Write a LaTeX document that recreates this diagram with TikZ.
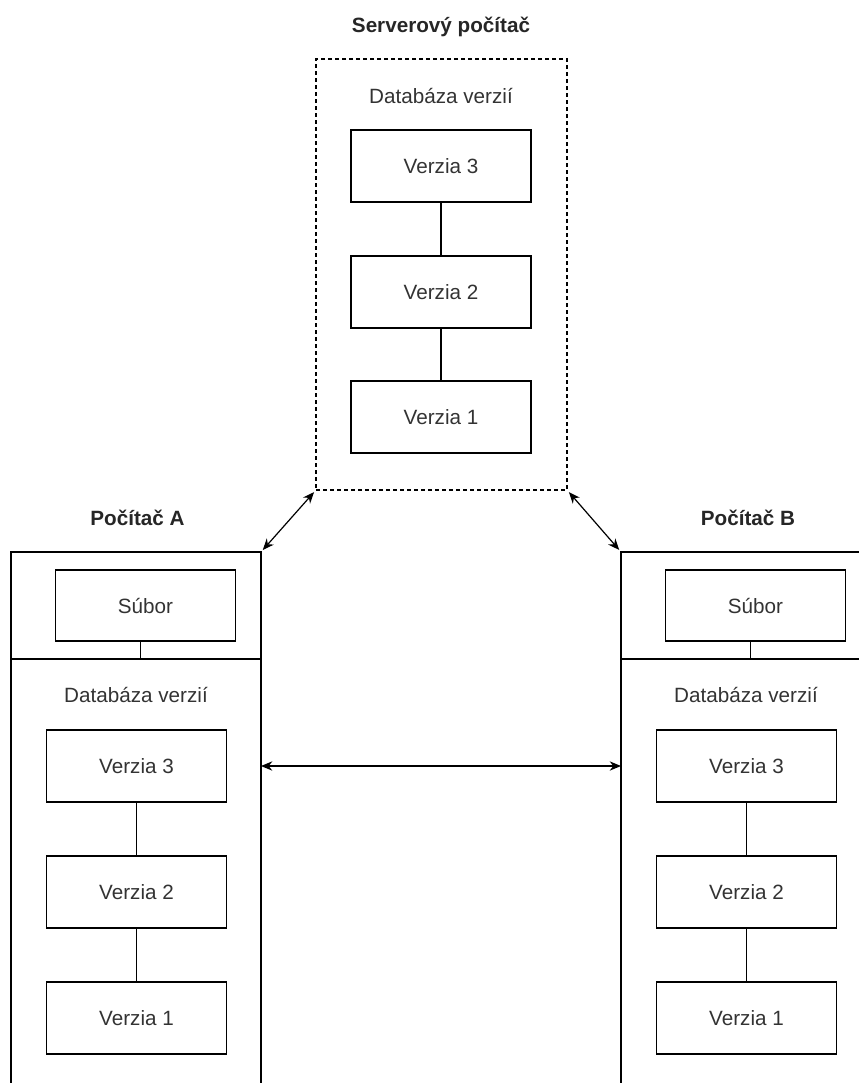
\documentclass[tikz,border=0pt]{standalone}
\usepackage{fontspec}
\setmainfont{Liberation Sans}
\usetikzlibrary{arrows.meta,positioning}

\begin{document}
\begin{tikzpicture}[x=0.75pt,y=-0.75pt,line width=0.9pt,
  >={Stealth[length=8.5pt,width=7pt]},
  verbox/.style={draw,minimum width=135pt,minimum height=54pt,inner sep=0pt,
    font=\fontsize{15.5}{18}\selectfont,text=black!80},
  dblabel/.style={inner sep=0pt,font=\fontsize{15.5}{18}\selectfont,text=black!80},
  pctitle/.style={inner sep=0pt,font=\fontsize{15.5}{18}\selectfont\bfseries,text=black!85}]
  \useasboundingbox (0,0) rectangle (859,1083);

  % Server
  \node[pctitle] (srvtitle) at (441,27) {Serverový počítač};
  \node[draw,dash pattern=on 3pt off 2.25pt,minimum width=188.25pt,minimum height=323.25pt,inner sep=0pt]
    (server) at (441.5,274.5) {};
  \node[dblabel] (srvdb) at (441,96) {Databáza verzií};
  \node[verbox] (srv3) at (441,166) {Verzia 3};
  \node[verbox] (srv2) at (441,292) {Verzia 2};
  \node[verbox] (srv1) at (441,417) {Verzia 1};
  \draw (srv3) -- (srv2);
  \draw (srv2) -- (srv1);

  % Computer A
  \coordinate (cornA) at (261,552);
  \coordinate (sepA) at (11,659);
  \node[pctitle] (titleA) at (137.5,518) {Počítač A};
  \draw (11,1083) |- (cornA) -- (261,1083);
  \draw (sepA) -- (sepA -| cornA);
  \node[verbox,minimum height=53.25pt] (subA) at (145.5,605.5) {Súbor};
  \draw ([xshift=-3.75pt]subA.south) -- ([xshift=-3.75pt]subA.south |- sepA);
  \node[dblabel] (dbA) at (136,695) {Databáza verzií};
  \node[verbox] (verA3) at (136.5,766) {Verzia 3};
  \node[verbox] (verA2) at (136.5,892) {Verzia 2};
  \node[verbox] (verA1) at (136.5,1018) {Verzia 1};
  \draw (verA3) -- (verA2);
  \draw (verA2) -- (verA1);

  % Computer B
  \coordinate (cornB) at (621,552);
  \coordinate (sepB) at (859,659);
  \node[pctitle] (titleB) at (748,518) {Počítač B};
  \draw (621,1083) |- (859,552);
  \draw (sepB -| cornB) -- (sepB);
  \node[verbox,minimum height=53.25pt] (subB) at (755.5,605.5) {Súbor};
  \draw ([xshift=-3.75pt]subB.south) -- ([xshift=-3.75pt]subB.south |- sepB);
  \node[dblabel] (dbB) at (746,695) {Databáza verzií};
  \node[verbox] (verB3) at (746.5,766) {Verzia 3};
  \node[verbox] (verB2) at (746.5,892) {Verzia 2};
  \node[verbox] (verB1) at (746.5,1018) {Verzia 1};
  \draw (verB3) -- (verB2);
  \draw (verB2) -- (verB1);

  % Synchronisation
  \draw[<->,shorten <=1.5pt,shorten >=2pt] (server.south west) -- (cornA);
  \draw[<->,shorten <=1.5pt,shorten >=2pt] (server.south east) -- (cornB);
  \draw[<->] (verA3 -| cornA) -- (verB3 -| cornB);
\end{tikzpicture}
\end{document}
